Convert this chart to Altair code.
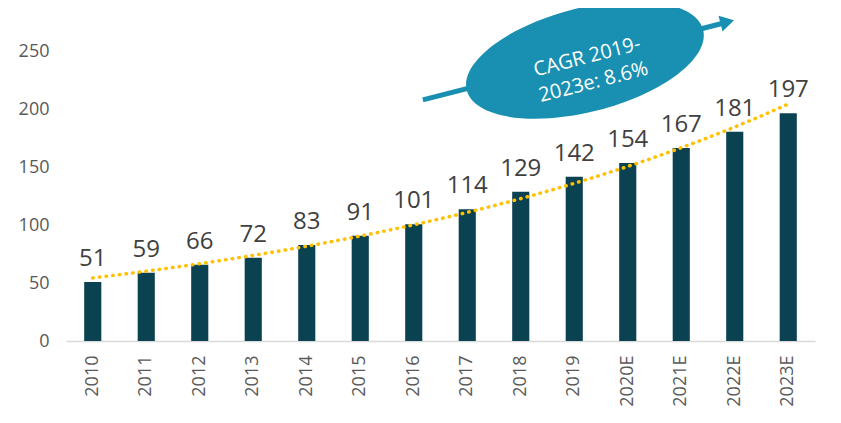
import altair as alt
import pandas as pd

years = ["2010", "2011", "2012", "2013", "2014", "2015", "2016", "2017",
         "2018", "2019", "2020E", "2021E", "2022E", "2023E"]
values = [51, 59, 66, 72, 83, 91, 101, 114, 129, 142, 154, 167, 181, 197]
idx = list(range(len(years)))

y_ticks = [0, 50, 100, 150, 200, 250]

cagr_text = "CAGR 2019-\n2023e: 8.6%"
ellipse_pos = {"x": [9.2], "y": [243]}
arrow_line = {"x": [6.17, 11.76], "y": [208.5, 274.6]}
arrow_head = {"x": [11.86], "y": [276]}
text_pos = {"x": [9.24], "y": [245.5], "t": [cagr_text]}

df = pd.DataFrame({"year": years, "value": values, "idx": idx})

BAR = "#0A4252"
BLUE = "#1990B2"
FONT = "Open Sans"

yscale = alt.Scale(domain=[0, 288], nice=False, zero=True)
xq_scale = alt.Scale(domain=[-0.5, len(years) - 0.5], nice=False, zero=False)

yaxis = alt.Axis(values=y_ticks, domain=False, ticks=False, grid=False,
                 labelFont=FONT, labelFontSize=18, labelColor="#595959",
                 labelPadding=17)


def Y(field):
    return alt.Y(f"{field}:Q", scale=yscale, axis=yaxis, title=None)


def XQ(field):
    return alt.X(f"{field}:Q", scale=xq_scale, axis=None, title=None)


band_scale = alt.Scale(paddingInner=0.68, paddingOuter=0.34)

xband = alt.X(
    "year:N", sort=years, title=None, scale=band_scale,
    axis=alt.Axis(labelAngle=270, labelFont=FONT, labelFontSize=18,
                  labelColor="#595959", labelPadding=14, ticks=False,
                  domainColor="#D9D9D9", domainWidth=1.5, grid=False),
)

bars = alt.Chart(df).mark_bar(color=BAR).encode(x=xband, y=Y("value"))

labels = alt.Chart(df).mark_text(
    baseline="alphabetic", dy=-16, fontSize=24, font=FONT, color="#404040"
).encode(x=alt.X("year:N", sort=years, scale=band_scale, axis=None),
         y=Y("value"), text="value:Q")

trend = alt.Chart(df).transform_regression(
    "idx", "value", method="exp"
).mark_line(color="#FFC000", strokeWidth=3.5, strokeDash=[0.5, 6.2],
            strokeCap="round").encode(x=XQ("idx"), y=Y("value"))

arrow = alt.Chart(pd.DataFrame(arrow_line)).mark_line(
    color=BLUE, strokeWidth=5
).encode(x=XQ("x"), y=Y("y"))

head = alt.Chart(pd.DataFrame(arrow_head)).mark_point(
    shape="triangle-right", filled=True, opacity=1, color=BLUE, size=260,
    angle=345.6
).encode(x=XQ("x"), y=Y("y"))

ellipse_path = ("M 1 0 C 1 0.235 0.552 0.426 0 0.426 "
                "C -0.552 0.426 -1 0.235 -1 0 "
                "C -1 -0.235 -0.552 -0.426 0 -0.426 "
                "C 0.552 -0.426 1 -0.235 1 0 Z")

ellipse = alt.Chart(pd.DataFrame(ellipse_pos)).mark_point(
    shape=ellipse_path, filled=True, opacity=1, color=BLUE, size=59536,
    angle=345.6, strokeWidth=0
).encode(x=XQ("x"), y=Y("y"))

ctext = alt.Chart(pd.DataFrame(text_pos)).mark_text(
    lineBreak="\n", angle=345.6, fontSize=20, font=FONT, color="white",
    align="center", baseline="middle", lineHeight=26
).encode(x=XQ("x"), y=Y("y"), text="t:N")

chart = alt.layer(
    bars, labels, trend, arrow, head, ellipse, ctext
).resolve_scale(x="independent").properties(
    width=749, height=333,
    autosize=alt.AutoSizeParams(type="none"),
    padding={"left": 58, "top": 0, "right": 18, "bottom": 80},
).configure_view(stroke=None)

chart.save("out.html", embed_options={"renderer": "svg", "actions": False})
